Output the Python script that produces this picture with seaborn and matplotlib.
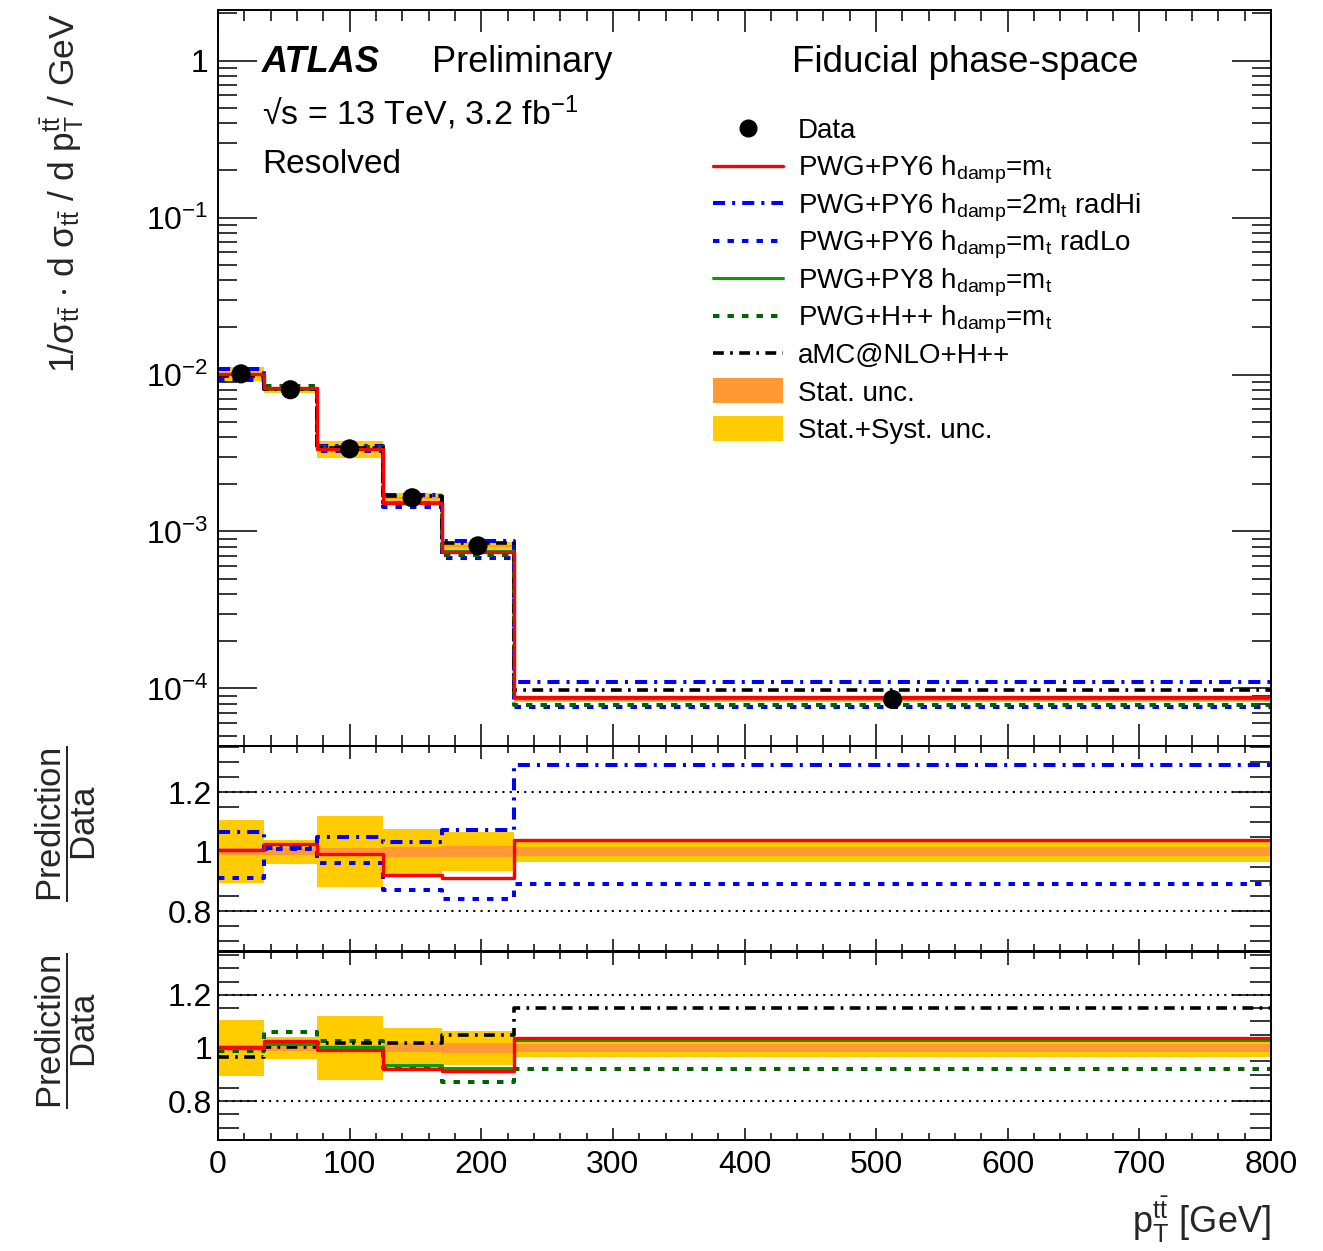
import math
import numpy as np
import matplotlib
matplotlib.use("Agg")
import matplotlib.pyplot as plt
import seaborn as sns
from matplotlib.ticker import MultipleLocator, LogLocator, FuncFormatter, NullFormatter
from matplotlib.lines import Line2D
from matplotlib.patches import Patch, Rectangle
from matplotlib.legend_handler import HandlerPatch, HandlerLine2D

# %%
# binning and measured values (read off the figure)
bin_edges = [0, 35, 75, 125, 170, 225, 800]
data_vals = [0.0101, 0.0080, 0.00336, 0.00164, 0.00081, 8.5e-5]
stat_unc = [0.012, 0.012, 0.013, 0.017, 0.018, 0.016]
tot_unc = [0.105, 0.040, 0.120, 0.077, 0.065, 0.034]

# prediction / data
ratio_py6 = [1.005, 1.027, 0.993, 0.922, 0.913, 1.038]
ratio_radhi = [1.067, 1.013, 1.050, 1.034, 1.074, 1.290]
ratio_radlo = [0.910, 1.010, 0.963, 0.870, 0.840, 0.890]
ratio_py8 = [1.000, 1.015, 1.005, 0.936, 0.924, 1.030]
ratio_hpp = [0.990, 1.062, 1.026, 0.924, 0.872, 0.920]
ratio_amc = [0.966, 1.004, 1.019, 1.019, 1.050, 1.151]

# %%
sns.set_theme(style="ticks")
plt.rcParams["font.family"] = ["Liberation Sans", "DejaVu Sans"]
plt.rcParams.update({
    "mathtext.fontset": "custom",
    "mathtext.rm": "Liberation Sans",
    "mathtext.it": "Liberation Sans:italic",
    "mathtext.bf": "Liberation Sans:bold",
    "mathtext.default": "regular",
    "axes.edgecolor": "black",
    "axes.linewidth": 1.4,
    "xtick.color": "black",
    "ytick.color": "black",
    "text.color": "black",
})

RED, BLUE, GREEN, DGREEN = "#ff0000", "#0000ff", "#00a000", "#006400"
ORANGE, YELLOW = "#ff9933", "#ffcc00"
dashdot = (0, (3.0, 1.75, 0.75, 1.75))
dotted = (0, (1.6, 2.0))

styles = {
    "radlo": dict(color=BLUE, lw=2.9, linestyle=dotted),
    "radhi": dict(color=BLUE, lw=2.9, linestyle=dashdot),
    "py8": dict(color=GREEN, lw=2.2, linestyle="-"),
    "hpp": dict(color=DGREEN, lw=2.9, linestyle=dotted),
    "amc": dict(color="black", lw=2.6, linestyle=dashdot),
    "py6": dict(color=RED, lw=2.4, linestyle="-"),
}

centres = [(a + b) / 2 for a, b in zip(bin_edges[:-1], bin_edges[1:])]


def step(ax, vals, **kw):
    y = list(vals) + [vals[-1]]
    sns.lineplot(x=bin_edges, y=y, ax=ax, drawstyle="steps-post",
                 estimator=None, sort=False, **kw)


def band(ax, centre, rel, color):
    lo = [c * (1 - r) for c, r in zip(centre, rel)]
    hi = [c * (1 + r) for c, r in zip(centre, rel)]
    ax.fill_between(bin_edges, lo + [lo[-1]], hi + [hi[-1]], step="post",
                    color=color, lw=0, zorder=1)


# legend handles sit at the middle of the capital letters
def small_box(legend, orig_handle, xdescent, ydescent, width, height, fontsize):
    h = 0.9 * fontsize
    return Rectangle((-xdescent, 0.36 * fontsize - h / 2), width, h)


class CentredLine(HandlerLine2D):
    def create_artists(self, legend, orig_handle, xdescent, ydescent, width,
                       height, fontsize, trans):
        arts = super().create_artists(legend, orig_handle, xdescent, ydescent,
                                      width, height, fontsize, trans)
        for a in arts:
            a.set_ydata(np.full_like(np.asarray(a.get_ydata(), float), 0.36 * fontsize))
        return arts


W, H = 1323, 1251
fig = plt.figure(figsize=(W / 100, H / 100), dpi=100)
left, width = 218 / W, (1271 - 218) / W
ax = fig.add_axes([left, (H - 746) / H, width, (746 - 10) / H])
ax_r1 = fig.add_axes([left, (H - 951) / H, width, (951 - 746) / H], sharex=ax)
ax_r2 = fig.add_axes([left, (H - 1140) / H, width, (1140 - 952) / H], sharex=ax)

# %%
# main panel
band(ax, data_vals, tot_unc, YELLOW)
band(ax, data_vals, stat_unc, ORANGE)
main_preds = {"radlo": ratio_radlo, "radhi": ratio_radhi, "py8": ratio_py8,
              "hpp": ratio_hpp, "amc": ratio_amc, "py6": ratio_py6}
for key, r in main_preds.items():
    step(ax, [d * x for d, x in zip(data_vals, r)], **styles[key])
sns.scatterplot(x=centres, y=data_vals, ax=ax, color="black", s=190,
                edgecolor="none", zorder=10)
ax.set_yscale("log")
ax.set_ylim(4.3e-5, 2.1)
ax.set_xlim(0, 800)
ax.yaxis.set_major_locator(LogLocator(base=10, numticks=10))
ax.yaxis.set_minor_locator(LogLocator(base=10, subs=range(2, 10), numticks=20))
ax.yaxis.set_minor_formatter(NullFormatter())
ax.yaxis.set_major_formatter(FuncFormatter(
    lambda v, p: "1" if abs(v - 1) < 1e-9 else r"$10^{%d}$" % round(math.log10(v))))
ax.set_ylabel(r"1/$\sigma_{t\bar{t}}$ $\cdot$ d $\sigma_{t\bar{t}}$ / d $p_{T}^{t\bar{t}}$ / GeV",
              fontsize=25.5, loc="top")
ax.yaxis.set_label_coords(-0.125, 0.995)
ax.set_xlabel("")
ax.tick_params(axis="x", labelbottom=False)
ax.tick_params(axis="x", which="major", length=16)
ax.tick_params(axis="x", which="minor", length=8)
ax.tick_params(axis="y", which="major", length=28, labelsize=23, pad=7)
ax.tick_params(axis="y", which="minor", length=14)

# ratio panels
for rax in (ax_r1, ax_r2):
    band(rax, [1.0] * 6, tot_unc, YELLOW)
    band(rax, [1.0] * 6, stat_unc, ORANGE)
    for yv in (0.8, 1.2):
        rax.axhline(yv, color="black", lw=1.5, linestyle=(0, (1, 2.5)), zorder=0.5)

for key in ("radlo", "radhi", "py6"):
    step(ax_r1, dict(radlo=ratio_radlo, radhi=ratio_radhi, py6=ratio_py6)[key], **styles[key])
for key in ("hpp", "amc", "py8", "py6"):
    step(ax_r2, dict(hpp=ratio_hpp, amc=ratio_amc, py8=ratio_py8, py6=ratio_py6)[key], **styles[key])

ax_r1.set_ylim(0.666, 1.355)
ax_r2.set_ylim(0.653, 1.362)
for rax in (ax_r1, ax_r2):
    rax.yaxis.set_major_locator(MultipleLocator(0.2))
    rax.yaxis.set_minor_locator(MultipleLocator(0.05))
    rax.yaxis.set_major_formatter(FuncFormatter(lambda v, p: "%g" % round(v, 2)))
    rax.set_ylabel(r"$\dfrac{Prediction}{Data}$", fontsize=25)
    rax.tick_params(axis="y", which="major", length=28, labelsize=23, pad=4)
    rax.tick_params(axis="y", which="minor", length=15)
    rax.tick_params(axis="x", which="major", length=9)
    rax.tick_params(axis="x", which="minor", length=5)
ax_r1.yaxis.set_label_coords(-0.114, 0.62)
ax_r2.yaxis.set_label_coords(-0.114, 0.58)
ax_r1.tick_params(axis="x", labelbottom=False)
ax_r1.set_xlabel("")

for a in (ax, ax_r1, ax_r2):
    a.tick_params(which="both", direction="in", top=True, right=True, width=1.1)
    a.xaxis.set_major_locator(MultipleLocator(100))
    a.xaxis.set_minor_locator(MultipleLocator(20))

ax_r2.tick_params(axis="x", labelsize=23, pad=7)
ax_r2.set_xlabel(r"$p_{T}^{t\bar{t}}$ [GeV]", fontsize=26, loc="right")
ax_r2.xaxis.set_label_coords(1.0, -0.29)

# %%
# labels inside the main panel
fig.text(262 / W, 1 - 72 / H, "ATLAS", fontsize=26, fontweight="bold",
         fontstyle="italic", va="baseline")
fig.text(432 / W, 1 - 72 / H, "Preliminary", fontsize=26, va="baseline")
fig.text(792 / W, 1 - 72 / H, "Fiducial phase-space", fontsize=26.4, va="baseline")
fig.text(262 / W, 1 - 125 / H, "\u221as = 13 TeV, 3.2 fb$^{-1}$", fontsize=24.5, va="baseline")
fig.text(262 / W, 1 - 173 / H, "Resolved", fontsize=24, va="baseline")

hdamp = r"h$_{damp}$"
handles = [
    Line2D([], [], marker="o", color="black", ls="none", markersize=12),
    Line2D([], [], **styles["py6"]),
    Line2D([], [], **styles["radhi"]),
    Line2D([], [], **styles["radlo"]),
    Line2D([], [], **styles["py8"]),
    Line2D([], [], **styles["hpp"]),
    Line2D([], [], **styles["amc"]),
    Patch(facecolor=ORANGE, edgecolor="none"),
    Patch(facecolor=YELLOW, edgecolor="none"),
]
labels = [
    "Data",
    "PWG+PY6 " + hdamp + r"=m$_{t}$",
    "PWG+PY6 " + hdamp + r"=2m$_{t}$ radHi",
    "PWG+PY6 " + hdamp + r"=m$_{t}$ radLo",
    "PWG+PY8 " + hdamp + r"=m$_{t}$",
    "PWG+H++ " + hdamp + r"=m$_{t}$",
    "aMC@NLO+H++",
    "Stat. unc.",
    "Stat.+Syst. unc.",
]
# a tall handle box gives every row the same height
ax.legend(handles, labels, loc="upper left", bbox_to_anchor=(713 / W, 1 - 107 / H),
          bbox_transform=fig.transFigure, frameon=False, fontsize=20,
          handlelength=2.52, handleheight=2.1, handletextpad=0.54,
          borderpad=0, borderaxespad=0, labelspacing=-0.26,
          handler_map={Line2D: CentredLine(), Patch: HandlerPatch(patch_func=small_box)})

plt.savefig("out.png", dpi=100)
